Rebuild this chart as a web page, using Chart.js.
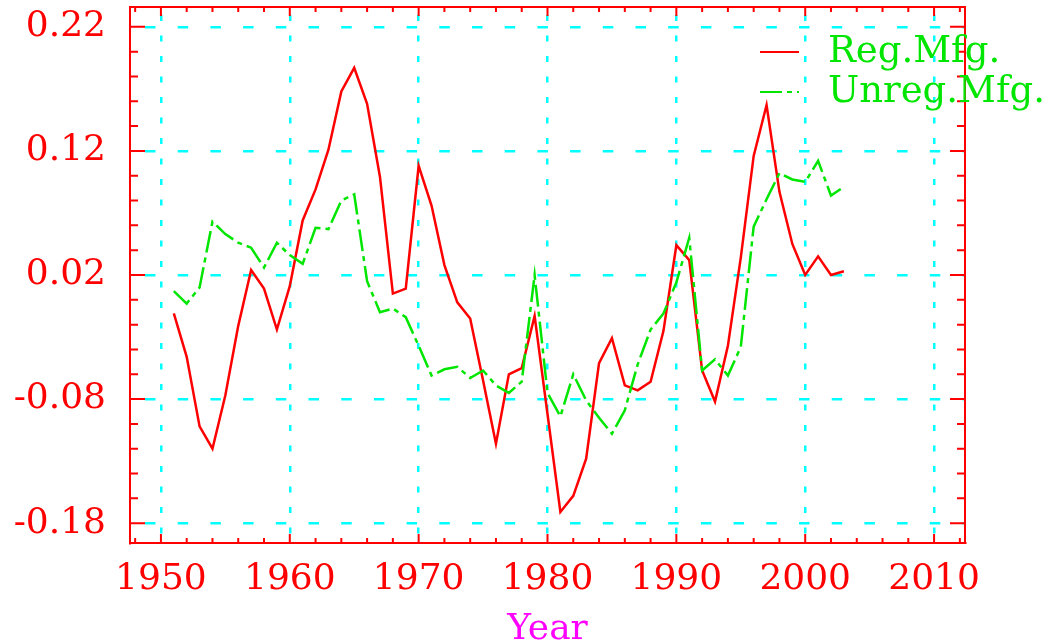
<!DOCTYPE html>
<html>
<head>
<meta charset="utf-8">
<script src="https://cdn.jsdelivr.net/npm/chart.js@4/dist/chart.umd.min.js"></script>
<style>
  body { margin: 0; background: #fff; }
  #wrap { width: 1052px; height: 644px; }
</style>
</head>
<body>
<div id="wrap"><canvas id="graph"></canvas></div>
<script>
const years = [
  1951, 1952, 1953, 1954, 1955, 1956, 1957, 1958, 1959, 1960,
  1961, 1962, 1963, 1964, 1965, 1966, 1967, 1968, 1969, 1970,
  1971, 1972, 1973, 1974, 1975, 1976, 1977, 1978, 1979, 1980,
  1981, 1982, 1983, 1984, 1985, 1986, 1987, 1988, 1989, 1990,
  1991, 1992, 1993, 1994, 1995, 1996, 1997, 1998, 1999, 2000,
  2001, 2002, 2003
]
const regMfg = [
  -0.011, -0.046, -0.102, -0.120, -0.077, -0.021, 0.024, 0.009, -0.024, 0.011,
  0.064, 0.089, 0.121, 0.168, 0.187, 0.158, 0.099, 0.005, 0.009, 0.108,
  0.076, 0.028, -0.002, -0.015, -0.065, -0.116, -0.060, -0.055, -0.013, -0.092,
  -0.171, -0.158, -0.128, -0.051, -0.031, -0.069, -0.073, -0.066, -0.025, 0.044,
  0.032, -0.057, -0.082, -0.037, 0.034, 0.116, 0.157, 0.087, 0.045, 0.020,
  0.035, 0.020, 0.023
]
const unregMfg = [
  0.007, -0.003, 0.010, 0.063, 0.053, 0.046, 0.042, 0.026, 0.046, 0.036,
  0.029, 0.058, 0.057, 0.080, 0.085, 0.015, -0.010, -0.007, -0.014, -0.037,
  -0.061, -0.056, -0.054, -0.063, -0.057, -0.069, -0.075, -0.066, 0.020, -0.075,
  -0.094, -0.060, -0.081, -0.095, -0.108, -0.089, -0.052, -0.024, -0.011, 0.014,
  0.050, -0.057, -0.048, -0.061, -0.038, 0.059, 0.081, 0.102, 0.097, 0.095,
  0.112, 0.084, 0.091
]
const yearTicks = [1950, 1960, 1970, 1980, 1990, 2000, 2010]
const valueTicks = [-0.18, -0.08, 0.02, 0.12, 0.22]

const RED = '#ff0000'
const GREEN = '#00e600'
const CYAN = '#00ffff'
const FONT = '"DejaVu Serif", "Liberation Serif", serif'

// frame with inward ticks and the little legend in the corner
const framePlugin = {
    id: 'frame',
    afterDraw(chart) {
        const ctx = chart.ctx
        const a = chart.chartArea
        const x = chart.scales.x
        const y = chart.scales.y
        ctx.save()
        ctx.strokeStyle = RED
        ctx.lineWidth = 2
        ctx.strokeRect(a.left, a.top, a.right - a.left, a.bottom - a.top)
        ctx.beginPath()
        for (let v = 1948; v <= 2012; v += 2) {
            const px = x.getPixelForValue(v)
            const len = v % 10 === 0 ? 9 : 5
            ctx.moveTo(px, a.bottom); ctx.lineTo(px, a.bottom - len)
            ctx.moveTo(px, a.top); ctx.lineTo(px, a.top + len)
        }
        for (let i = -9; i <= 11; i++) {
            const v = i * 0.02
            const py = y.getPixelForValue(v)
            const len = (i + 9) % 5 === 0 ? 15 : 8
            ctx.moveTo(a.left, py); ctx.lineTo(a.left + len, py)
            ctx.moveTo(a.right, py); ctx.lineTo(a.right - len, py)
        }
        ctx.stroke()

        // legend
        const lx = a.right - 205
        const ly = a.top + 45
        ctx.font = '37px ' + FONT
        ctx.textBaseline = 'middle'
        ctx.fillStyle = GREEN
        chart.data.datasets.forEach((ds, i) => {
            const yy = ly + i * 40
            ctx.strokeStyle = ds.borderColor
            ctx.lineWidth = 2
            ctx.setLineDash(ds.borderDash || [])
            ctx.beginPath()
            ctx.moveTo(lx, yy)
            ctx.lineTo(lx + 39, yy)
            ctx.stroke()
            ctx.setLineDash([])
            ctx.fillText(ds.label, lx + 68, yy)
        })
        ctx.restore()
    }
}

new Chart(document.getElementById('graph').getContext('2d'), {
    type: 'line',
    data: {
        datasets: [
            {
                label: 'Reg.Mfg.',
                data: years.map((yr, i) => ({ x: yr, y: regMfg[i] })),
                borderColor: RED,
                borderWidth: 2.5,
                pointRadius: 0,
                tension: 0,
                order: 1,
            },
            {
                label: 'Unreg.Mfg.',
                data: years.map((yr, i) => ({ x: yr, y: unregMfg[i] })),
                borderColor: GREEN,
                borderWidth: 2.5,
                borderDash: [22, 5, 5, 5],
                pointRadius: 0,
                tension: 0,
                order: 0,
            }
        ]
    },
    options: {
        responsive: true,
        maintainAspectRatio: false,
        animation: false,
        layout: { padding: { top: 7, right: 87, left: 0, bottom: 0 } },
        plugins: {
            legend: { display: false },
            tooltip: { enabled: false },
        },
        scales: {
            x: {
                type: 'linear',
                min: 1947.6,
                max: 2012.4,
                afterBuildTicks: s => { s.ticks = yearTicks.map(v => ({ value: v })) },
                afterFit: s => { s.height = 101; s.paddingLeft = 0; s.paddingRight = 0 },
                grid: { color: CYAN, lineWidth: 2.5, drawTicks: false },
                border: { color: RED, width: 2, dash: [6, 14.5], dashOffset: 12.5 },
                ticks: {
                    color: RED,
                    font: { family: FONT, size: 36 },
                    padding: 15,
                    maxRotation: 0,
                    callback: v => String(v),
                },
                title: {
                    display: true,
                    text: 'Year',
                    color: '#ff00ff',
                    font: { family: FONT, size: 36, lineHeight: 1 },
                    padding: { top: 0, bottom: -4 },
                },
            },
            y: {
                min: -0.196,
                max: 0.236,
                afterBuildTicks: s => { s.ticks = valueTicks.map(v => ({ value: v })) },
                afterFit: s => { s.width = 130; s.paddingTop = 0; s.paddingBottom = 0 },
                grid: { color: CYAN, lineWidth: 2.5, drawTicks: false },
                border: { color: RED, width: 2, dash: [10.5, 22.2], dashOffset: 18.7 },
                ticks: {
                    color: RED,
                    font: { family: FONT, size: 36 },
                    padding: 24,
                    callback: v => v.toFixed(2),
                },
            }
        }
    },
    plugins: [framePlugin]
})
</script>
</body>
</html>
